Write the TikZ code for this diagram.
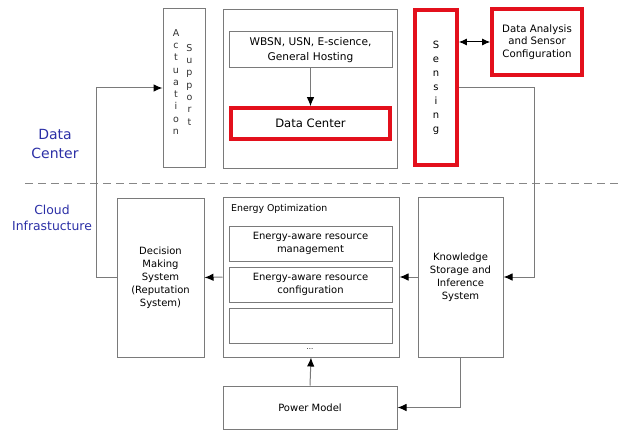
\documentclass[tikz,border=0pt]{standalone}
\usepackage{fontspec}
\setmainfont{DejaVu Sans}
\usetikzlibrary{arrows.meta,positioning,calc}
\definecolor{boxgray}{HTML}{7A7A7A}
\definecolor{hired}{HTML}{E3101C}
\definecolor{sideblue}{HTML}{2B2FA6}
\tikzset{
  box/.style={draw=boxgray, line width=1pt, fill=white, inner sep=0pt, align=center,
    font=\fontsize{10}{13}\selectfont},
  redbox/.style={draw=hired, line width=3.6pt, fill=white, inner sep=0pt, align=center},
  arr/.style={draw=boxgray, line width=1pt, -{Latex[length=9pt,width=7.5pt,color=black]}},
  darr/.style={draw=black, line width=1pt, {Latex[length=8pt,width=7pt]}-{Latex[length=8pt,width=7pt]}},
  vtext/.style={inner sep=0pt, align=center, font=\fontsize{9.5}{12.3}\selectfont, text=black!80},
  side/.style={text=sideblue, align=center, inner sep=0pt},
}
\begin{document}
\begin{tikzpicture}[x=1pt,y=-1pt]
\useasboundingbox (0,0) rectangle (621,433);
% separator
\coordinate (sepL) at (25,183);
\coordinate (sepR) at (621,183);
\draw[boxgray!90, line width=1pt, dash pattern=on 8pt off 5pt] (sepL) -- (sepR);
% side labels
\node[side, font=\fontsize{14}{19}\selectfont] (lblDC) at (55,144) {Data\\Center};
\node[side, font=\fontsize{12.4}{16}\selectfont] (lblCI) at (52,218) {Cloud\\Infrastucture};
% top boxes
\node[box, minimum width=42pt, minimum height=158pt] (act) at (184,88) {};
\node[vtext, anchor=north] (actA) at (176,29) {A\\c\\t\\u\\a\\t\\i\\o\\n};
\node[vtext, anchor=north] (actS) at (189.5,44) {S\\u\\p\\p\\o\\r\\t};
\node[box, minimum width=174pt, minimum height=158pt] (top) at (310,89) {};
\node[box, minimum width=163pt, minimum height=36pt, font=\fontsize{10.6}{14.5}\selectfont] (wbsn) at (310.5,50) {WBSN, USN, E-science,\\General Hosting};
\node[redbox, minimum width=159pt, minimum height=31pt, font=\fontsize{11.6}{14}\selectfont] (dc) at (310.5,123.5) {Data Center};
\node[redbox, minimum width=42pt, minimum height=155pt, font=\fontsize{10}{14}\selectfont] (sens) at (436,87.5) {S\\e\\n\\s\\i\\n\\g};
\node[redbox, minimum width=90pt, minimum height=66pt, font=\fontsize{10.2}{12.5}\selectfont] (dan) at (537,42) {Data Analysis\\and Sensor\\Configuration};
% bottom boxes
\node[box, minimum width=87pt, minimum height=159pt] (dec) at (160.5,277.5) {Decision\\Making\\System\\(Reputation\\System)};
\node[box, minimum width=176pt, minimum height=160pt] (eo) at (311,277) {};
\node[anchor=west, inner sep=0pt, font=\fontsize{9.4}{12}\selectfont] (eot) at (231,209) {Energy Optimization};
\node[box, minimum width=163pt, minimum height=35pt] (e1) at (310.5,243.5) {Energy-aware resource\\management};
\node[box, minimum width=163pt, minimum height=35pt] (e2) at (310.5,284.5) {Energy-aware resource\\configuration};
\node[box, minimum width=163pt, minimum height=35pt] (e3) at (310.5,325.5) {};
\node[inner sep=0pt, font=\fontsize{7}{8}\selectfont] (dots) at (310,349) {...};
\node[box, minimum width=85pt, minimum height=160pt] (ks) at (460.5,277) {Knowledge\\Storage and\\Inference\\System};
\node[box, minimum width=174pt, minimum height=43pt] (pm) at (310,407.5) {Power Model};
% connectors
\draw[arr] (wbsn.south) -- (dc.north);
\draw[darr] (sens.east |- dan.west) -- (dan.west);
\draw[arr] (sens.east) -- ++(76,0) |- (ks.east);
\draw[arr] (ks.west) -- (eo.east);
\draw[arr] (eo.west) -- (dec.east);
\draw[arr] (dec.west) -- ++(-20,0) |- (act.west);
\draw[arr] (pm.north) -- (eo.south);
\draw[arr] (ks.south) |- (pm.east);
\end{tikzpicture}
\end{document}
